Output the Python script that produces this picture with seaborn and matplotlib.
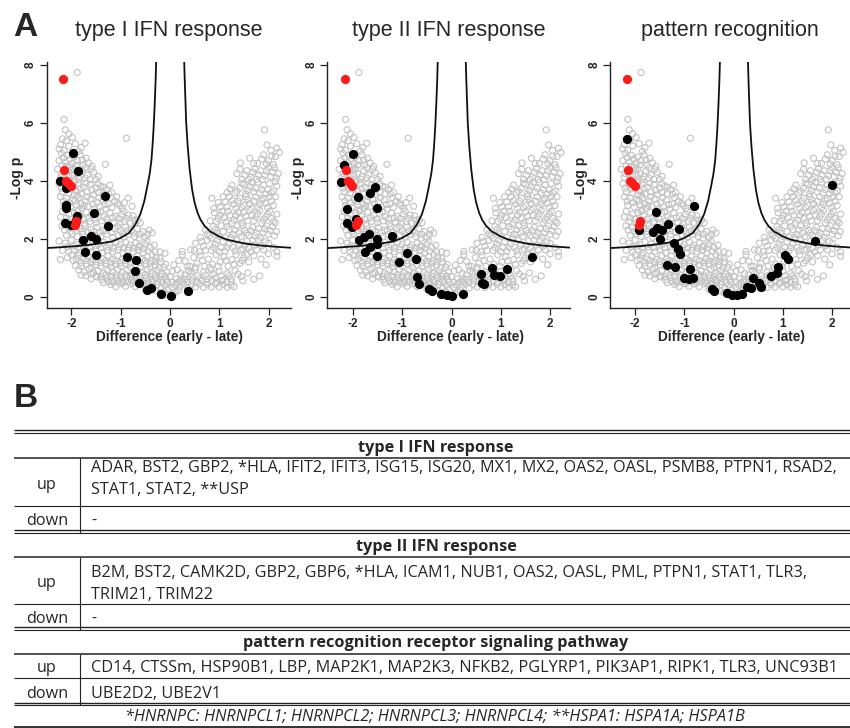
import matplotlib
matplotlib.use("Agg")
import matplotlib.pyplot as plt
import seaborn as sns

# ---- panel A data ----
panel_titles = ["type I IFN response", "type II IFN response", "pattern recognition"]
x_ticks = [-2, -1, 0, 1, 2]
y_ticks = [0, 2, 4, 6, 8]

# all proteins (grey open circles), same cloud in every panel
grey_pts = [
    (-1.88, 7.74), (-2.15, 6.12), (-2.12, 5.76), (-2.05, 5.62), (-0.88, 5.47), (-2.18, 5.45),
    (-2.10, 5.38), (-1.98, 5.50), (-2.22, 5.25), (-2.05, 5.20), (-1.92, 5.28), (-1.80, 5.15),
    (-2.15, 5.05), (-1.72, 5.30), (-1.85, 5.02), (-2.25, 5.10),
    (-2.20, 4.95), (-2.08, 4.88), (-1.95, 4.82), (-1.82, 4.90), (-1.70, 4.78), (-2.25, 4.70),
    (-2.12, 4.65), (-1.98, 4.60), (-1.88, 4.70), (-1.76, 4.55), (-1.65, 4.62), (-2.18, 4.52),
    (-2.02, 4.48), (-1.31, 4.57), (-1.58, 4.50),
    (-2.16, 4.80), (-2.03, 4.75), (-1.90, 4.55), (-1.78, 4.72), (-2.09, 4.50), (-1.95, 4.42),
    (-1.82, 4.15), (-1.72, 4.10), (-1.60, 4.40), (-1.50, 4.05), (-2.20, 4.25), (-2.10, 4.05),
    (-1.98, 4.22),
    (-2.28, 4.40), (-2.15, 4.32), (-2.00, 4.38), (-1.90, 4.25), (-1.78, 4.35), (-1.68, 4.20),
    (-1.55, 4.30), (-1.45, 4.15), (-2.22, 4.12), (-2.05, 4.15), (-1.84, 4.05), (-1.62, 4.05),
    (-1.95, 4.00), (-1.72, 4.45),
    (-2.25, 3.90), (-2.12, 3.85), (-1.98, 3.80), (-1.86, 3.92), (-1.75, 3.78), (-1.62, 3.88),
    (-1.50, 3.75), (-1.40, 3.82), (-1.28, 3.70), (-1.18, 3.60), (-2.18, 3.62), (-2.05, 3.58),
    (-1.90, 3.65), (-1.80, 3.55), (-1.68, 3.62), (-1.55, 3.52), (-1.35, 3.55), (-1.22, 3.85),
    (-1.95, 3.52),
    (-2.20, 3.75), (-2.08, 3.72), (-1.94, 3.95), (-1.82, 3.72), (-1.70, 3.92), (-1.58, 3.68),
    (-1.46, 3.90), (-1.34, 3.78), (-1.24, 3.55), (-1.45, 3.60), (-1.88, 3.50), (-2.02, 3.95),
    (-2.22, 3.45), (-2.10, 3.40), (-1.97, 3.35), (-1.85, 3.42), (-1.72, 3.30), (-1.60, 3.38),
    (-1.48, 3.25), (-1.36, 3.35), (-1.25, 3.20), (-1.12, 3.30), (-1.02, 3.15), (-0.97, 3.05),
    (-2.15, 3.15), (-2.02, 3.10), (-1.90, 3.18), (-1.78, 3.05), (-1.66, 3.12), (-1.54, 3.02),
    (-1.42, 3.10), (-1.30, 3.02), (-1.18, 3.08), (-0.77, 3.12), (-0.85, 3.40), (-1.08, 3.45),
    (-2.16, 3.30), (-2.04, 3.25), (-1.92, 3.30), (-1.80, 3.20), (-1.68, 3.45), (-1.56, 3.20),
    (-1.44, 3.42), (-1.32, 3.18), (-1.20, 3.42), (-1.06, 3.22), (-0.92, 3.25), (-1.86, 3.00),
    (-1.74, 3.15),
    (-2.18, 2.95), (-2.05, 2.85), (-1.94, 2.90), (-1.82, 2.78), (-1.70, 2.92), (-1.58, 2.80),
    (-1.46, 2.88), (-1.34, 2.75), (-1.22, 2.90), (-1.10, 2.78), (-0.98, 2.85), (-0.88, 2.70),
    (-0.75, 2.80), (-0.65, 2.65), (-2.12, 2.60), (-1.98, 2.55), (-1.86, 2.62), (-1.74, 2.52),
    (-1.62, 2.60), (-1.50, 2.55), (-1.38, 2.62), (-1.26, 2.52), (-1.14, 2.58), (-1.02, 2.55),
    (-0.92, 2.60), (-0.80, 2.55), (-0.70, 2.52),
    (-2.22, 2.75), (-2.10, 2.72), (-1.99, 2.68), (-1.88, 2.95), (-1.76, 2.68), (-1.64, 2.72),
    (-1.52, 2.68), (-1.40, 2.95), (-1.28, 2.68), (-1.16, 2.72), (-1.04, 2.70), (-0.94, 2.95),
    (-0.84, 2.82), (-0.72, 2.65), (-0.60, 2.55),
    (-2.19, 2.45), (-2.06, 2.38), (-1.95, 2.42), (-1.83, 2.35), (-1.72, 2.45), (-1.60, 2.32),
    (-1.48, 2.40), (-1.36, 2.30), (-1.24, 2.42), (-1.12, 2.35), (-1.00, 2.28), (-0.90, 2.40),
    (-0.78, 2.30), (-0.66, 2.35), (-0.55, 2.25), (-0.45, 2.15), (-0.36, 2.20), (-2.10, 2.12),
    (-1.98, 2.18), (-1.88, 2.08), (-1.76, 2.15), (-1.64, 2.05), (-1.52, 2.12), (-1.40, 2.08),
    (-1.28, 2.15), (-1.16, 2.05), (-1.04, 2.12), (-0.94, 2.05), (-0.84, 2.15), (-0.72, 2.08),
    (-0.62, 2.02), (-0.50, 2.05),
    (-2.14, 2.30), (-2.02, 2.25), (-1.90, 2.28), (-1.78, 2.25), (-1.66, 2.22), (-1.54, 2.25),
    (-1.42, 2.22), (-1.30, 2.28), (-1.18, 2.22), (-1.06, 2.42), (-0.96, 2.18), (-0.86, 2.28),
    (-0.74, 2.20), (-0.60, 2.15), (-0.42, 2.30),
    (-2.25, 1.92), (-2.12, 1.85), (-2.00, 1.95), (-1.90, 1.80), (-1.80, 1.90), (-1.68, 1.82),
    (-1.56, 1.92), (-1.45, 1.80), (-1.34, 1.88), (-1.22, 1.78), (-1.10, 1.90), (-1.00, 1.80),
    (-0.90, 1.88), (-0.80, 1.78), (-0.70, 1.85), (-0.60, 1.75), (-0.50, 1.82), (-0.40, 1.70),
    (-0.32, 1.78), (-2.18, 1.60), (-2.05, 1.55), (-1.94, 1.62), (-1.84, 1.52), (-1.72, 1.60),
    (-1.60, 1.55), (-1.50, 1.62), (-1.38, 1.52), (-1.26, 1.60), (-1.16, 1.55), (-1.05, 1.62),
    (-0.95, 1.52), (-0.85, 1.60), (-0.74, 1.55), (-0.64, 1.60), (-0.54, 1.52), (-0.44, 1.58),
    (-0.20, 1.55), (-0.10, 1.50),
    (-2.08, 1.72), (-1.96, 1.75), (-1.86, 1.68), (-1.74, 1.72), (-1.62, 1.70), (-1.52, 1.75),
    (-1.40, 1.68), (-1.28, 1.72), (-1.16, 1.68), (-1.04, 1.72), (-0.94, 1.68), (-0.84, 1.70),
    (-0.74, 1.68), (-0.64, 1.72), (-0.54, 1.66), (-0.46, 1.92), (-0.30, 1.55), (-0.36, 1.45),
    (-2.22, 1.28), (-2.08, 1.35), (-1.96, 1.25), (-1.86, 1.42), (-1.76, 1.30), (-1.66, 1.40),
    (-1.56, 1.28), (-1.46, 1.42), (-1.36, 1.30), (-1.26, 1.40), (-1.16, 1.28), (-1.06, 1.42),
    (-0.96, 1.30), (-0.86, 1.40), (-0.76, 1.28), (-0.66, 1.42), (-0.56, 1.30), (-0.46, 1.38),
    (-0.36, 1.25), (-0.28, 1.35), (-0.18, 1.20), (-1.92, 1.08), (-1.80, 1.05), (-1.70, 1.12),
    (-1.60, 1.02), (-1.50, 1.10), (-1.40, 1.05), (-1.30, 1.15), (-1.20, 1.02), (-1.10, 1.12),
    (-1.00, 1.05), (-0.90, 1.15), (-0.80, 1.02), (-0.70, 1.10), (-0.60, 1.05), (-0.50, 1.12),
    (-0.40, 1.02), (-0.30, 1.08), (-0.22, 1.00), (-0.09, 1.12),
    (-2.00, 1.45), (-1.90, 1.30), (-1.80, 1.18), (-1.70, 1.25), (-1.60, 1.18), (-1.50, 1.22),
    (-1.40, 1.18), (-1.30, 1.25), (-1.20, 1.16), (-1.10, 1.24), (-1.00, 1.18), (-0.90, 1.25),
    (-0.80, 1.16), (-0.70, 1.24), (-0.60, 1.18), (-0.50, 1.24), (-0.40, 1.16), (-0.30, 1.22),
    (-0.20, 1.32), (-0.12, 1.02),
    (-1.85, 0.92), (-1.74, 0.85), (-1.64, 0.95), (-1.55, 0.82), (-1.46, 0.90), (-1.36, 0.80),
    (-1.26, 0.92), (-1.16, 0.85), (-1.06, 0.95), (-0.96, 0.82), (-0.86, 0.92), (-0.76, 0.80),
    (-0.66, 0.90), (-0.56, 0.82), (-0.46, 0.95), (-0.36, 0.80), (-0.26, 0.90), (-0.16, 0.78),
    (-0.06, 0.85), (0.05, 0.88), (-1.60, 0.62), (-1.48, 0.68), (-1.38, 0.58), (-1.28, 0.66),
    (-1.18, 0.55), (-1.08, 0.65), (-0.98, 0.55), (-0.88, 0.68), (-0.78, 0.56), (-0.68, 0.66),
    (-0.58, 0.55), (-0.48, 0.65), (-0.38, 0.56), (-0.28, 0.66), (-0.18, 0.55), (-0.08, 0.60),
    (-1.80, 0.75), (-1.70, 0.72), (-1.60, 0.78), (-1.50, 0.72), (-1.40, 0.70), (-1.30, 0.76),
    (-1.20, 0.70), (-1.10, 0.76), (-1.00, 0.70), (-0.90, 0.76), (-0.80, 0.70), (-0.70, 0.76),
    (-0.60, 0.70), (-0.50, 0.76), (-0.40, 0.70), (-0.30, 0.76), (-0.20, 0.70), (-0.10, 0.72),
    (0.00, 0.70),
    (-1.35, 0.48), (-1.25, 0.52), (-1.15, 0.48), (-1.05, 0.52), (-0.95, 0.48), (-0.85, 0.52),
    (-0.75, 0.48), (-0.65, 0.52), (-0.55, 0.48), (-0.45, 0.52), (-0.35, 0.48), (-0.25, 0.52),
    (-0.15, 0.48), (-0.05, 0.50), (0.05, 0.50), (0.15, 0.48), (0.25, 0.52),
    (-1.20, 0.42), (-1.10, 0.35), (-1.00, 0.45), (-0.90, 0.36), (-0.80, 0.44), (-0.70, 0.35),
    (-0.60, 0.45), (-0.50, 0.36), (-0.42, 0.44), (-0.34, 0.30), (-0.26, 0.42), (-0.18, 0.30),
    (-0.10, 0.40), (-0.04, 0.25), (0.04, 0.32), (-0.28, 0.20), (-0.20, 0.14), (-0.12, 0.18),
    (-0.06, 0.08), (0.00, 0.02), (0.06, 0.10), (0.12, 0.16), (0.18, 0.22), (0.10, 0.40),
    (0.20, 0.35), (0.28, 0.44), (0.36, 0.30), (0.44, 0.42), (0.52, 0.34), (0.60, 0.44),
    (0.68, 0.32), (0.76, 0.42), (0.84, 0.33), (0.92, 0.44), (1.00, 0.34), (1.08, 0.42),
    (1.16, 0.33), (1.24, 0.40), (1.30, 0.35), (-0.50, 0.25), (-0.38, 0.22),
    (0.35, 0.50), (0.45, 0.55), (0.55, 0.50), (0.65, 0.55), (0.75, 0.50), (0.85, 0.55),
    (0.95, 0.50), (1.05, 0.55), (1.15, 0.50), (1.25, 0.52), (0.30, 0.75), (0.42, 0.80),
    (0.56, 0.72), (0.72, 0.75), (0.88, 0.78), (1.04, 0.72), (1.20, 0.72), (1.38, 0.78),
    (0.15, 0.93), (0.12, 0.62), (0.22, 0.80), (0.30, 0.60), (0.38, 0.90), (0.45, 0.68),
    (0.52, 0.95), (0.60, 0.62), (0.68, 0.85), (0.76, 0.60), (0.84, 0.92), (0.92, 0.65),
    (1.00, 0.88), (1.08, 0.58), (1.16, 0.80), (1.24, 0.62), (1.32, 0.90), (1.45, 0.70),
    (1.58, 0.82), (1.70, 0.60), (1.82, 0.72), (1.48, 0.55), (0.20, 0.55),
    (0.08, 1.10), (0.25, 1.45), (0.31, 1.22), (0.40, 1.05), (0.48, 1.35), (0.55, 1.15),
    (0.62, 1.42), (0.70, 1.05), (0.78, 1.30), (0.86, 1.12), (0.94, 1.45), (1.02, 1.20),
    (1.10, 1.38), (1.18, 1.05), (1.26, 1.28), (1.34, 1.45), (1.42, 1.15), (1.50, 1.35),
    (1.60, 1.20), (1.70, 1.42), (1.85, 1.30), (2.00, 1.48), (2.17, 1.40), (1.95, 1.10),
    (0.18, 1.25), (0.35, 1.05), (0.52, 1.02), (0.66, 1.25), (0.82, 1.00), (0.98, 1.05),
    (1.14, 1.25), (1.30, 1.12), (1.46, 1.25), (1.56, 1.45),
    (0.25, 1.56), (0.42, 1.62), (0.52, 1.85), (0.60, 1.55), (0.68, 1.75), (0.76, 1.95),
    (0.84, 1.60), (0.92, 1.82), (1.00, 1.55), (1.08, 1.90), (1.16, 1.70), (1.24, 1.98),
    (1.32, 1.58), (1.40, 1.82), (1.48, 1.65), (1.56, 1.92), (1.64, 1.55), (1.72, 1.78),
    (1.80, 1.95), (1.90, 1.62), (2.00, 1.85), (2.10, 1.70), (2.17, 1.55),
    (0.50, 1.60), (0.64, 1.90), (0.72, 1.60), (0.88, 1.70), (0.96, 1.95), (1.04, 1.70),
    (1.12, 1.58), (1.20, 1.82), (1.28, 1.70), (1.36, 1.95), (1.44, 1.60), (1.52, 1.78),
    (1.60, 1.68), (1.68, 1.95), (1.76, 1.62), (1.86, 1.75), (1.94, 1.90),
    (0.62, 2.05), (0.72, 2.30), (0.80, 2.10), (0.88, 2.42), (0.96, 2.20), (1.04, 2.45),
    (1.12, 2.05), (1.20, 2.32), (1.28, 2.15), (1.36, 2.45), (1.44, 2.08), (1.52, 2.30),
    (1.60, 2.12), (1.68, 2.40), (1.76, 2.20), (1.84, 2.05), (1.92, 2.35), (2.00, 2.15),
    (2.08, 2.42), (2.16, 2.25),
    (0.76, 2.18), (0.84, 2.02), (0.92, 2.32), (1.00, 2.08), (1.08, 2.25), (1.16, 2.42),
    (1.24, 2.05), (1.32, 2.30), (1.40, 2.20), (1.48, 2.45), (1.56, 2.20), (1.64, 2.28),
    (1.72, 2.10), (1.80, 2.35), (1.88, 2.20), (1.96, 2.45), (2.04, 2.28), (2.12, 2.10),
    (0.82, 2.62), (0.90, 2.90), (0.98, 2.70), (1.06, 2.95), (1.14, 2.58), (1.22, 2.82),
    (1.30, 2.65), (1.38, 2.92), (1.46, 2.55), (1.54, 2.78), (1.62, 2.98), (1.70, 2.62),
    (1.78, 2.85), (1.86, 2.55), (1.94, 2.75), (2.02, 2.95), (2.10, 2.60), (2.17, 2.85),
    (0.94, 2.60), (1.02, 2.82), (1.10, 2.72), (1.18, 2.95), (1.26, 2.55), (1.34, 2.80),
    (1.42, 2.70), (1.50, 2.92), (1.58, 2.62), (1.66, 2.82), (1.74, 2.75), (1.82, 2.98),
    (1.90, 2.65), (1.98, 2.85), (2.06, 2.70), (2.14, 2.55),
    (0.85, 3.40), (0.89, 3.05), (0.98, 3.25), (1.08, 3.45), (1.16, 3.10), (1.26, 3.32),
    (1.34, 3.05), (1.42, 3.40), (1.50, 3.15), (1.58, 3.35), (1.66, 3.05), (1.74, 3.45),
    (1.82, 3.20), (1.90, 3.40), (1.98, 3.08), (2.06, 3.30), (2.14, 3.45),
    (1.02, 3.10), (1.12, 3.28), (1.20, 3.45), (1.30, 3.20), (1.38, 3.30), (1.46, 3.08),
    (1.54, 3.45), (1.62, 3.22), (1.70, 3.30), (1.78, 3.08), (1.86, 3.32), (1.94, 3.22),
    (2.02, 3.45), (2.10, 3.15),
    (1.16, 3.60), (1.26, 3.85), (1.36, 3.65), (1.46, 3.92), (1.54, 3.55), (1.62, 3.80),
    (1.70, 3.62), (1.78, 3.95), (1.86, 3.70), (1.94, 3.55), (2.02, 3.90), (2.10, 3.65),
    (2.17, 3.82),
    (1.22, 3.72), (1.32, 3.58), (1.42, 3.75), (1.50, 3.88), (1.58, 3.68), (1.66, 3.95),
    (1.74, 3.75), (1.82, 3.58), (1.90, 3.85), (1.98, 3.70), (2.06, 3.58), (2.14, 3.98),
    (1.36, 4.25), (1.46, 4.05), (1.56, 4.35), (1.64, 4.12), (1.72, 4.42), (1.80, 4.20),
    (1.88, 4.05), (1.96, 4.35), (2.04, 4.15), (2.12, 4.45), (2.20, 4.25),
    (1.42, 4.40), (1.52, 4.20), (1.60, 4.05), (1.68, 4.30), (1.76, 4.05), (1.84, 4.35),
    (1.92, 4.18), (2.00, 4.45), (2.08, 4.30), (2.16, 4.10), (1.70, 4.60), (1.86, 4.75),
    (1.96, 4.58), (2.06, 4.85),
    (1.43, 4.62), (1.62, 4.78), (1.78, 4.60), (1.90, 4.90), (2.00, 4.70), (2.10, 4.55),
    (2.14, 4.84), (2.22, 4.98), (1.92, 5.76), (1.97, 5.24), (2.17, 5.13), (2.05, 5.05),
]

# highlighted proteins (red), same in every panel
red_pts = [(-2.17, 7.52), (-2.15, 4.38), (-2.11, 4.00), (-2.06, 3.92), (-2.01, 3.82),
           (-1.90, 2.60), (-1.93, 2.46)]

# proteins of each annotation category (black)
black_type1 = [
    (-1.96, 4.95), (-1.87, 4.34), (-2.24, 4.01), (-2.10, 3.75), (-1.32, 3.48), (-2.10, 3.18),
    (-2.10, 3.05), (-1.54, 2.89), (-2.12, 2.56), (-2.00, 2.46), (-1.88, 2.80), (-1.90, 2.65),
    (-1.25, 2.43), (-1.61, 2.10), (-1.49, 2.00), (-1.77, 1.97), (-1.73, 1.56), (-1.50, 1.44),
    (-0.88, 1.37), (-0.68, 1.28), (-0.70, 0.90), (-0.62, 0.46), (-0.46, 0.24), (-0.39, 0.29),
    (-0.18, 0.08), (0.03, 0.01), (0.36, 0.21),
]
black_type2 = [
    (-2.00, 4.94), (-2.18, 4.54), (-2.25, 3.97), (-2.13, 3.02), (-1.90, 3.45), (-1.56, 3.79),
    (-1.66, 3.59), (-1.51, 3.05), (-2.13, 2.55), (-2.01, 2.41), (-1.93, 2.70), (-1.68, 2.18),
    (-1.78, 2.07), (-1.88, 1.95), (-1.51, 1.98), (-1.51, 1.82), (-1.65, 1.72), (-1.76, 1.55),
    (-1.52, 1.40), (-1.20, 2.10), (-0.91, 1.52), (-1.06, 1.21), (-0.72, 1.29), (-0.71, 0.69),
    (-0.66, 0.44), (-0.45, 0.25), (-0.39, 0.20), (-0.22, 0.09), (-0.09, 0.06), (0.01, 0.02),
    (0.24, 0.11), (0.60, 0.80), (0.61, 0.46), (0.66, 0.44), (0.83, 0.98), (0.86, 0.75),
    (0.99, 0.71), (1.12, 0.94), (1.63, 1.38),
]
black_pattern = [
    (-2.16, 5.43), (1.99, 3.84), (-0.80, 3.13), (-1.57, 2.91), (-1.93, 2.32), (-1.64, 2.22),
    (-1.55, 2.38), (-1.45, 2.30), (-1.34, 2.51), (-1.10, 2.33), (-1.49, 1.98), (-1.21, 1.86),
    (-1.14, 1.63), (-1.09, 1.47), (-1.36, 1.09), (-1.20, 1.03), (-0.89, 0.94), (-1.01, 0.63),
    (-0.91, 0.60), (-0.83, 0.66), (-0.45, 0.25), (-0.39, 0.20), (-0.14, 0.14), (-0.04, 0.06),
    (0.06, 0.06), (0.16, 0.11), (0.28, 0.34), (0.36, 0.29), (0.39, 0.66), (0.52, 0.48),
    (0.55, 0.32), (0.75, 0.71), (0.87, 0.83), (0.90, 1.03), (1.04, 1.44), (1.11, 1.29),
    (1.65, 1.93),
]
black_sets = [black_type1, black_type2, black_pattern]

# significance threshold curve (two branches)
curve_left_x = [-2.50, -2.20, -1.80, -1.50, -1.17, -1.00, -0.83, -0.70, -0.60, -0.52,
                -0.46, -0.41, -0.375, -0.35, -0.33, -0.31, -0.29, -0.28]
curve_left_y = [1.68, 1.71, 1.76, 1.82, 1.91, 2.03, 2.20, 2.50, 2.85, 3.30,
                3.80, 4.25, 4.72, 5.30, 5.87, 6.60, 7.48, 8.10]
curve_right_x = [0.29, 0.30, 0.31, 0.33, 0.36, 0.40, 0.45, 0.50, 0.56, 0.62,
                 0.70, 0.82, 1.00, 1.16, 1.50, 1.83, 2.10, 2.45]
curve_right_y = [8.10, 7.50, 7.00, 6.00, 5.20, 4.40, 3.70, 3.25, 2.90, 2.66,
                 2.45, 2.25, 2.08, 1.97, 1.84, 1.77, 1.73, 1.69]

# ---- panel B table text ----
section_titles = ["type I IFN response", "type II IFN response",
                  "pattern recognition receptor signaling pathway"]
up_genes = [
    ["ADAR, BST2, GBP2, *HLA, IFIT2, IFIT3, ISG15, ISG20, MX1, MX2, OAS2, OASL, PSMB8, PTPN1, RSAD2,",
     "STAT1, STAT2, **USP"],
    ["B2M, BST2, CAMK2D, GBP2, GBP6, *HLA, ICAM1, NUB1, OAS2, OASL, PML, PTPN1, STAT1, TLR3,",
     "TRIM21, TRIM22"],
    ["CD14, CTSSm, HSP90B1, LBP, MAP2K1, MAP2K3, NFKB2, PGLYRP1, PIK3AP1, RIPK1, TLR3, UNC93B1"],
]
down_genes = ["-", "-", "UBE2D2, UBE2V1"]
footnote = "*HNRNPC: HNRNPCL1; HNRNPCL2; HNRNPCL3; HNRNPCL4; **HSPA1: HSPA1A; HSPA1B"


def main():
    sns.set_style("ticks")
    plt.rcParams["font.family"] = ["Liberation Sans", "DejaVu Sans"]

    fig = plt.figure(figsize=(8.5, 7.28), dpi=100)

    # overlay in pixel coordinates for panel letters and the table
    tab = fig.add_axes([0, 0, 1, 1])
    tab.set_xlim(0, 850)
    tab.set_ylim(728, 0)
    tab.axis("off")

    gx = [p[0] for p in grey_pts]
    gy = [p[1] for p in grey_pts]
    rx = [p[0] for p in red_pts]
    ry = [p[1] for p in red_pts]

    lefts = [46.7, 327.3, 610]
    widths = [244, 243, 240]
    xlims = [(-2.5, 2.45), (-2.52, 2.41), (-2.51, 2.36)]
    for i in range(3):
        ax = fig.add_axes([lefts[i] / 850, 1 - 308.3 / 728, widths[i] / 850, 246.5 / 728])
        sns.scatterplot(x=gx, y=gy, ax=ax, s=19, color="#c2c2c2", facecolor="none",
                        edgecolor="#c2c2c2", linewidth=0.8, zorder=1)
        sns.lineplot(x=curve_left_x, y=curve_left_y, ax=ax, sort=False, estimator=None,
                     color="#111111", linewidth=1.3, zorder=2)
        sns.lineplot(x=curve_right_x, y=curve_right_y, ax=ax, sort=False, estimator=None,
                     color="#111111", linewidth=1.3, zorder=2)
        bx = [p[0] for p in black_sets[i]]
        by = [p[1] for p in black_sets[i]]
        sns.scatterplot(x=bx, y=by, ax=ax, s=44, color="black", edgecolor="black",
                        linewidth=0, zorder=3)
        sns.scatterplot(x=rx, y=ry, ax=ax, s=44, color="#ff1a1a", edgecolor="#ff1a1a",
                        linewidth=0, zorder=4)

        ax.set_xlim(*xlims[i])
        ax.set_ylim(-0.4, 8.11)
        ax.set_xticks(x_ticks)
        ax.set_yticks(y_ticks)
        ax.set_xticklabels([str(t) for t in x_ticks], fontweight="bold", fontsize=8.5)
        ax.set_yticklabels([str(t) for t in y_ticks], fontweight="bold", fontsize=8.5,
                           rotation=90, va="center")
        ax.tick_params(axis="both", direction="out", length=5, width=0.9, color="#222222",
                       pad=2)
        for side in ["top", "right"]:
            ax.spines[side].set_visible(False)
        for side in ["left", "bottom"]:
            ax.spines[side].set_linewidth(1.0)
            ax.spines[side].set_color("#222222")
        ax.set_xlabel("Difference (early - late)", fontweight="bold", fontsize=9.8)
        ax.set_ylabel("-Log p", fontweight="bold", fontsize=10)
        ax.xaxis.set_label_coords(0.505, -0.118)
        ax.xaxis.label.set_va("center")
        ax.yaxis.set_label_coords(-29.5 / widths[i], 0.53)
        ax.yaxis.label.set_va("center")
        ax.set_title(panel_titles[i], fontsize=15.5, y=1.105, pad=0, va="baseline")

    tab.text(13, 36, "A", fontsize=24, fontweight="bold", va="baseline")
    tab.text(14, 407, "B", fontsize=24, fontweight="bold", va="baseline")

    # ---- table ----
    tfont = ["Open Sans", "DejaVu Sans"]
    fs = 11.7
    lc = "#222222"

    def hline(y, lw=0.9):
        tab.plot([14, 850], [y, y], color=lc, lw=lw, solid_capstyle="butt")

    def vline(y0, y1):
        tab.plot([80, 80], [y0, y1], color=lc, lw=0.8, solid_capstyle="butt")

    # layout of each section, in pixels from the top
    sections = [
        dict(head=451.5, hl=458.3, up=[471.7, 494.3], uplab=489.0, mid=506.0,
             down=525.0, end=530.0),
        dict(head=551.0, hl=557.3, up=[577.3, 599.0], uplab=587.0, mid=604.0,
             down=623.0, end=627.3),
        dict(head=647.3, hl=654.0, up=[672.0], uplab=672.0, mid=678.0,
             down=697.5, end=702.5),
    ]
    hline(430.0, 1.0)
    hline(433.0, 0.8)
    for k, sec in enumerate(sections):
        tab.text(436, sec["head"], section_titles[k], family=tfont, fontsize=fs,
                 fontweight="bold", ha="center", va="baseline")
        hline(sec["hl"], 1.1)
        for line, yb in zip(up_genes[k], sec["up"]):
            tab.text(91, yb, line, family=tfont, fontsize=fs, va="baseline")
        tab.text(47, sec["uplab"], "up", family=tfont, fontsize=fs, ha="center", va="baseline")
        hline(sec["mid"], 0.8)
        tab.text(91, sec["down"], down_genes[k], family=tfont, fontsize=fs, va="baseline")
        tab.text(47, sec["down"], "down", family=tfont, fontsize=fs, ha="center", va="baseline")
        vline(sec["hl"], sec["end"] + 2.5)
        hline(sec["end"], 1.0)
        hline(sec["end"] + 2.6, 0.8)

    tab.text(435, 720.5, footnote, family=tfont, fontsize=fs, style="italic",
             ha="center", va="baseline")
    hline(727.0, 1.3)

    fig.savefig("out.png", dpi=100)
    plt.close(fig)


if __name__ == "__main__":
    main()
